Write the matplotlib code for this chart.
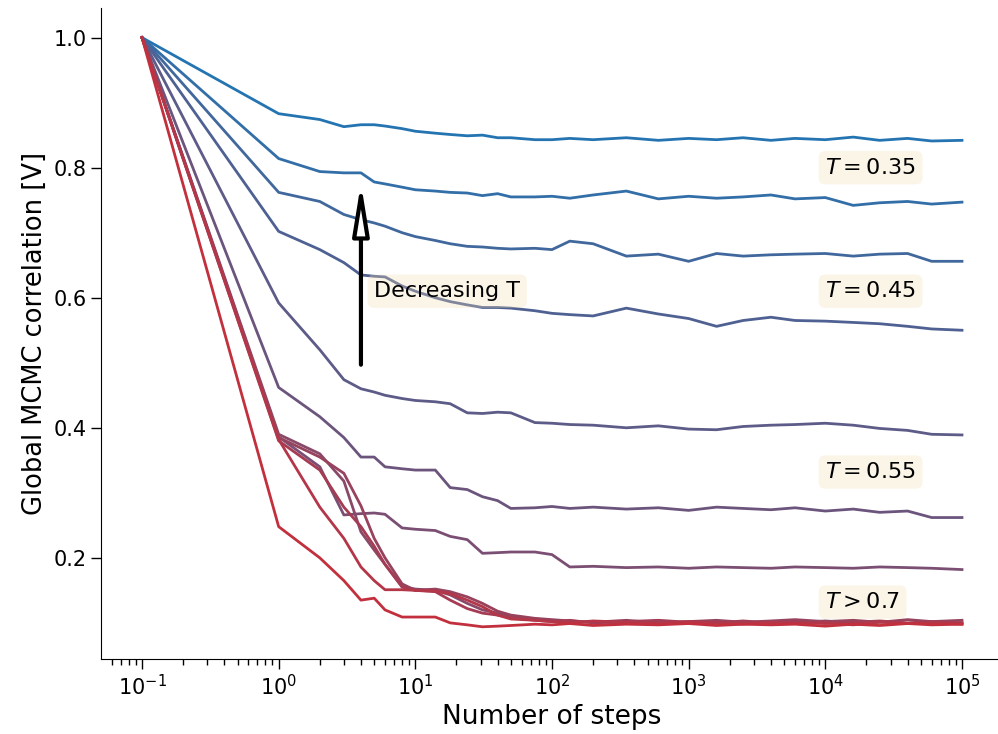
import numpy as np
import matplotlib
matplotlib.use("Agg")
import matplotlib.pyplot as plt
from matplotlib.colors import to_rgb
from matplotlib.ticker import NullFormatter

# MCMC steps (log axis), shared by all curves
steps = [0.1, 1, 2, 3, 4, 5, 6, 8, 10, 14, 18, 24, 31, 40, 50, 75, 100, 135,
         200, 350, 600, 1000, 1600, 2500, 4000, 6000, 1e4, 1.6e4, 2.5e4,
         4e4, 6e4, 1e5]

# correlation curves, lowest temperature first
corr_t035 = [1.0, 0.883, 0.874, 0.863, 0.866, 0.866, 0.864, 0.860, 0.856, 0.853,
             0.851, 0.849, 0.850, 0.846, 0.846, 0.843, 0.843, 0.845, 0.843, 0.846,
             0.842, 0.845, 0.843, 0.846, 0.842, 0.845, 0.843, 0.847, 0.842, 0.845,
             0.841, 0.842]
corr_t040 = [1.0, 0.814, 0.794, 0.792, 0.792, 0.778, 0.775, 0.770, 0.766, 0.764,
             0.762, 0.761, 0.757, 0.760, 0.755, 0.755, 0.756, 0.753, 0.758, 0.764,
             0.752, 0.756, 0.753, 0.755, 0.758, 0.752, 0.754, 0.742, 0.746, 0.748,
             0.744, 0.747]
corr_t045 = [1.0, 0.762, 0.748, 0.728, 0.720, 0.715, 0.710, 0.700, 0.694, 0.688,
             0.683, 0.679, 0.678, 0.676, 0.675, 0.676, 0.674, 0.687, 0.683, 0.664,
             0.667, 0.656, 0.668, 0.664, 0.666, 0.667, 0.668, 0.664, 0.667, 0.668,
             0.656, 0.656]
corr_t050 = [1.0, 0.702, 0.674, 0.654, 0.635, 0.633, 0.632, 0.618, 0.610, 0.600,
             0.594, 0.589, 0.585, 0.585, 0.584, 0.580, 0.576, 0.574, 0.572, 0.584,
             0.575, 0.568, 0.556, 0.565, 0.570, 0.565, 0.564, 0.562, 0.560, 0.556,
             0.552, 0.550]
corr_t055 = [1.0, 0.592, 0.520, 0.474, 0.460, 0.455, 0.450, 0.445, 0.442, 0.440,
             0.437, 0.423, 0.422, 0.424, 0.423, 0.408, 0.407, 0.405, 0.404, 0.400,
             0.403, 0.398, 0.397, 0.402, 0.404, 0.405, 0.407, 0.404, 0.399, 0.396,
             0.390, 0.389]
corr_t060 = [1.0, 0.462, 0.417, 0.385, 0.355, 0.355, 0.340, 0.337, 0.335, 0.335,
             0.308, 0.305, 0.294, 0.288, 0.276, 0.277, 0.279, 0.276, 0.278, 0.275,
             0.277, 0.273, 0.278, 0.276, 0.274, 0.277, 0.272, 0.275, 0.270, 0.272,
             0.262, 0.262]
corr_t065 = [1.0, 0.386, 0.340, 0.266, 0.268, 0.269, 0.267, 0.246, 0.244, 0.242,
             0.233, 0.228, 0.207, 0.208, 0.209, 0.209, 0.205, 0.186, 0.187, 0.185,
             0.186, 0.184, 0.186, 0.185, 0.184, 0.186, 0.185, 0.184, 0.186, 0.185,
             0.184, 0.182]
corr_t070 = [1.0, 0.390, 0.360, 0.318, 0.240, 0.212, 0.190, 0.156, 0.152, 0.150,
             0.143, 0.130, 0.120, 0.115, 0.110, 0.106, 0.104, 0.100, 0.102, 0.099,
             0.101, 0.100, 0.102, 0.099, 0.101, 0.100, 0.103, 0.100, 0.102, 0.099,
             0.101, 0.100]
corr_t075 = [1.0, 0.385, 0.355, 0.330, 0.280, 0.230, 0.200, 0.160, 0.150, 0.152,
             0.148, 0.140, 0.130, 0.118, 0.112, 0.107, 0.105, 0.103, 0.101, 0.104,
             0.100, 0.102, 0.104, 0.101, 0.103, 0.105, 0.102, 0.104, 0.101, 0.105,
             0.102, 0.104]
corr_t080 = [1.0, 0.380, 0.335, 0.278, 0.248, 0.218, 0.190, 0.155, 0.150, 0.148,
             0.135, 0.122, 0.115, 0.112, 0.108, 0.104, 0.102, 0.104, 0.100, 0.102,
             0.104, 0.101, 0.100, 0.103, 0.100, 0.102, 0.099, 0.101, 0.103, 0.100,
             0.102, 0.100]
corr_t085 = [1.0, 0.382, 0.278, 0.230, 0.186, 0.165, 0.151, 0.151, 0.150, 0.149,
             0.145, 0.135, 0.125, 0.112, 0.106, 0.104, 0.102, 0.100, 0.103, 0.101,
             0.099, 0.102, 0.100, 0.098, 0.101, 0.099, 0.100, 0.097, 0.101, 0.099,
             0.100, 0.098]
corr_t090 = [1.0, 0.248, 0.200, 0.165, 0.135, 0.138, 0.120, 0.109, 0.109, 0.109,
             0.100, 0.097, 0.094, 0.095, 0.096, 0.098, 0.097, 0.099, 0.096, 0.098,
             0.097, 0.099, 0.096, 0.098, 0.097, 0.098, 0.095, 0.098, 0.096, 0.099,
             0.097, 0.098]

curves = [corr_t035, corr_t040, corr_t045, corr_t050, corr_t055, corr_t060,
          corr_t065, corr_t070, corr_t075, corr_t080, corr_t085, corr_t090]

labels = [r"$T = 0.35$", r"$T = 0.45$", r"$T = 0.55$", r"$T > 0.7$"]
label_y = [0.80, 0.61, 0.332, 0.132]
xticks = [0.1, 1, 10, 100, 1e3, 1e4, 1e5]

fig = plt.figure(figsize=(9.98, 7.34), dpi=100)
ax = fig.add_axes([0.1012, 0.1022, 0.9038, 0.8869])

blue = np.array(to_rgb("#2474b2"))
red = np.array(to_rgb("#c2303e"))
n = len(curves)
for i, c in enumerate(curves):
    f = i / (n - 1)
    ax.plot(steps, c, color=blue + f * (red - blue), lw=2.0)

ax.set_xscale("log")
ax.set_xlim(10 ** -1.3, 10 ** 5.3)
ax.set_ylim(0.0445, 1.0455)
ax.set_xticks(xticks)
ax.xaxis.set_minor_formatter(NullFormatter())
ax.set_yticks([0.2, 0.4, 0.6, 0.8, 1.0])
ax.spines["top"].set_visible(False)
ax.spines["right"].set_visible(False)
ax.tick_params(labelsize=15, length=7, width=1)
ax.tick_params(which="minor", length=4, width=1)
ax.set_xlabel("Number of steps", fontsize=19)
ax.set_ylabel("Global MCMC correlation [V]", fontsize=18.5)

box = dict(boxstyle="round", facecolor="wheat", alpha=0.3, edgecolor="none")
for lab, y in zip(labels, label_y):
    ax.text(1e4, y, lab, fontsize=16, va="center", bbox=box)

ax.annotate("", xy=(4, 0.776), xytext=(4, 0.497),
            arrowprops=dict(arrowstyle="-|>,head_length=0.8,head_width=0.13",
                            lw=3, fc="white", ec="black", mutation_scale=38,
                            shrinkA=0, shrinkB=0))
ax.text(5, 0.61, "Decreasing T", fontsize=16, va="center", bbox=box)

fig.savefig("out.png", dpi=100)
